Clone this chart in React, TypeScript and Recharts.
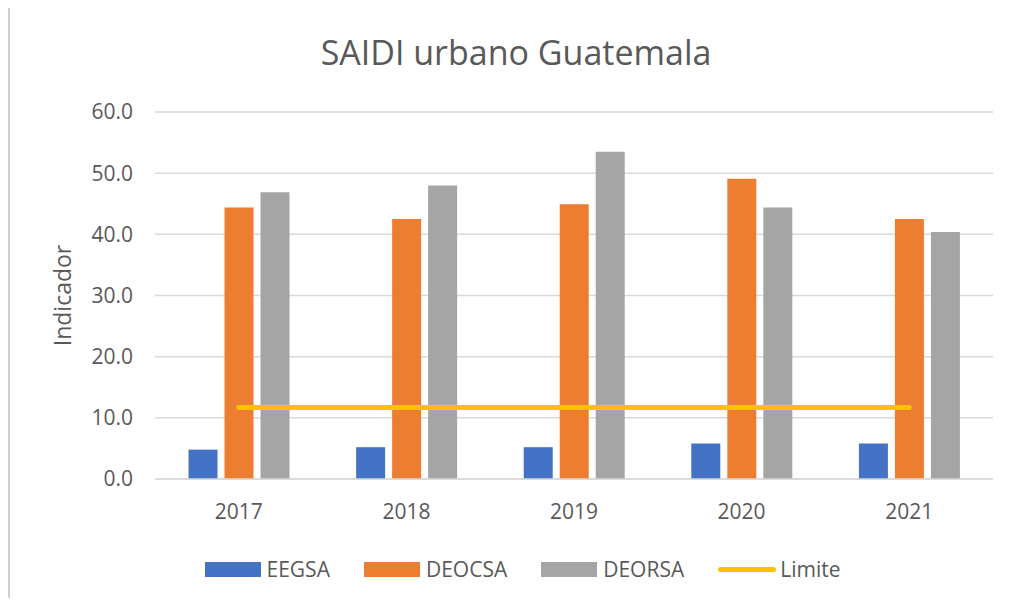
import React from "react";
import {
  ComposedChart,
  Bar,
  Line,
  XAxis,
  YAxis,
  CartesianGrid,
  Legend,
} from "recharts";

const years = ["2017", "2018", "2019", "2020", "2021"];
const eegsa = [4.8, 5.2, 5.2, 5.8, 5.8];
const deocsa = [44.4, 42.5, 44.9, 49.1, 42.5];
const deorsa = [46.9, 48.0, 53.5, 44.4, 40.4];
const limite = [11.7, 11.7, 11.7, 11.7, 11.7];
const yTicks = [0, 10, 20, 30, 40, 50, 60];

const COLORS = {
  eegsa: "#4472C4",
  deocsa: "#ED7D31",
  deorsa: "#A5A5A5",
  limite: "#FFC000",
  text: "#595959",
  grid: "#D9D9D9",
};

const FONT = "'Open Sans', sans-serif";

const data = years.map((y, i) => ({
  year: y,
  EEGSA: eegsa[i],
  DEOCSA: deocsa[i],
  DEORSA: deorsa[i],
  Limite: limite[i],
}));

const legendItems = [
  { name: "EEGSA", color: COLORS.eegsa, kind: "bar" },
  { name: "DEOCSA", color: COLORS.deocsa, kind: "bar" },
  { name: "DEORSA", color: COLORS.deorsa, kind: "bar" },
  { name: "Limite", color: COLORS.limite, kind: "line" },
];

function ExcelLegend() {
  return (
    <div
      style={{
        display: "flex",
        justifyContent: "center",
        alignItems: "center",
        gap: 34,
        paddingLeft: 32,
        fontFamily: FONT,
        fontSize: 21,
        color: COLORS.text,
      }}
    >
      {legendItems.map((it) => (
        <div key={it.name} style={{ display: "flex", alignItems: "center" }}>
          {it.kind === "bar" ? (
            <div style={{ width: 56, height: 15, background: it.color, marginRight: 6 }} />
          ) : (
            <div
              style={{
                width: 58,
                height: 5,
                borderRadius: 3,
                background: it.color,
                marginRight: 4,
              }}
            />
          )}
          <span>{it.name}</span>
        </div>
      ))}
    </div>
  );
}

export default function App() {
  return (
    <div
      style={{
        position: "relative",
        margin: -8,
        width: 1013,
        height: 606,
        overflow: "hidden",
        background: "#fff",
      }}
    >
      <div
        style={{
          position: "absolute",
          top: 29,
          left: 0,
          width: 1032,
          textAlign: "center",
          fontFamily: FONT,
          fontSize: 34,
          color: COLORS.text,
        }}
      >
        SAIDI urbano Guatemala
      </div>
      <div style={{ position: "absolute", left: 0, top: 0 }}>
        <ComposedChart
          width={1013}
          height={606}
          data={data}
          margin={{ top: 112, right: 20, bottom: 52, left: 85 }}
          barCategoryGap="20%"
          barGap={7}
        >
          <CartesianGrid vertical={false} stroke={COLORS.grid} strokeWidth={1.5} />
          <XAxis
            dataKey="year"
            axisLine={{ stroke: COLORS.grid, strokeWidth: 1.5 }}
            tickLine={false}
            tick={{ fill: COLORS.text, fontSize: 21, fontFamily: FONT }}
            tickMargin={19}
            height={45}
          />
          <YAxis
            domain={[0, 60]}
            ticks={yTicks}
            tickFormatter={(v: number) => v.toFixed(1)}
            axisLine={false}
            tickLine={false}
            tick={{ fill: COLORS.text, fontSize: 21, fontFamily: FONT }}
            tickMargin={16}
            width={70}
            label={{
              value: "Indicador",
              angle: -90,
              position: "insideLeft",
              offset: -22,
              style: { fill: COLORS.text, fontSize: 23, fontFamily: FONT, textAnchor: "middle" },
            }}
          />
          <Bar dataKey="EEGSA" fill={COLORS.eegsa} isAnimationActive={false} />
          <Bar dataKey="DEOCSA" fill={COLORS.deocsa} isAnimationActive={false} />
          <Bar dataKey="DEORSA" fill={COLORS.deorsa} isAnimationActive={false} />
          <Line
            dataKey="Limite"
            stroke={COLORS.limite}
            strokeWidth={5}
            strokeLinecap="round"
            dot={false}
            activeDot={false}
            isAnimationActive={false}
          />
          <Legend
            content={<ExcelLegend />}
            wrapperStyle={{ position: "absolute", top: 555, left: 0, width: 1013, height: 30 }}
          />
        </ComposedChart>
      </div>
      <div
        style={{
          position: "absolute",
          left: 8,
          top: 5,
          width: 1020,
          height: 620,
          borderTop: "2px solid #D0D0D0",
          borderLeft: "2px solid #D0D0D0",
          boxSizing: "border-box",
          pointerEvents: "none",
        }}
      />
    </div>
  );
}
